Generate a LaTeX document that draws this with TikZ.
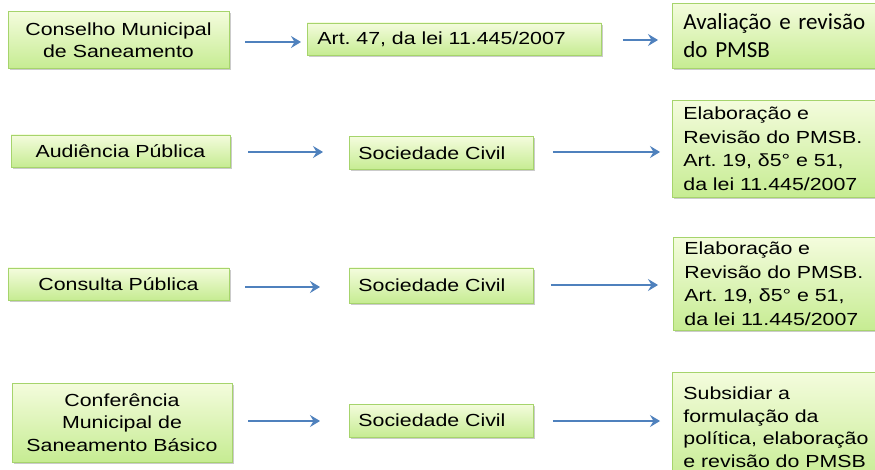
\documentclass[tikz,border=0pt]{standalone}
\usepackage{fontspec}
\setmainfont[FakeStretch=1.22]{Liberation Sans}
\newfontfamily\calib{Carlito}
\usetikzlibrary{shadows,arrows.meta}
\definecolor{boxtop}{HTML}{F4FCDD}
\definecolor{boxbot}{HTML}{C6EC92}
\definecolor{boxline}{HTML}{A6D46C}
\definecolor{arrblue}{HTML}{4F81BD}
\tikzset{
  box/.style={draw=boxline, line width=0.8pt, top color=boxtop, bottom color=boxbot,
    drop shadow={shadow xshift=1.5pt, shadow yshift=-2pt, fill=black!40, opacity=0.5},
    inner sep=0pt, font=\fontsize{17.5}{22.5}\selectfont, text=black},
  cbox/.style={box, align=center},
  sbox/.style={box, anchor=west, minimum width=184pt, minimum height=33pt, align=left, text width=184pt},
  rbox/.style={box, anchor=north west, minimum width=230pt, align=left, text width=230pt,
    inner ysep=4.5pt, font=\fontsize{17.5}{23.5}\selectfont},
  arr/.style={draw=arrblue, line width=2.8pt, -{Stealth[length=10pt,width=12pt,inset=3.5pt]}}
}
\begin{document}
\frenchspacing
\begin{tikzpicture}[x=1pt,y=-1pt]
\path[fill=white] (0,0) rectangle (875,470);
\useasboundingbox (0,0) rectangle (875,470);
\begin{scope}
\clip (0,0) rectangle (875,470);
% row 1
\node[cbox, minimum width=221pt, minimum height=57pt] (c1) at (118.5,40) {Conselho Municipal\\de Saneamento};
\node[box, anchor=west, minimum width=294pt, minimum height=32pt, align=left, text width=294pt] (a1) at (307,39) {\hspace*{10pt}Art. 47, da lei 11.445/2007};
\node[rbox, minimum height=65pt, inner ysep=3.5pt, font=\calib\fontsize{23}{28}\selectfont] (r1) at (672,3) {\hspace*{11pt}Avaliação e revisão\\\hspace*{11pt}do PMSB};
% row 2
\node[cbox, minimum width=219pt, minimum height=32pt] (c2) at (120.5,151) {Audiência Pública};
\node[sbox] (s2) at (349,153) {\hspace*{9pt}Sociedade Civil};
\node[rbox, minimum height=97pt] (r2) at (672,100) {\hspace*{11pt}Elaboração e\\\hspace*{11pt}Revisão do PMSB.\\\hspace*{11pt}Art. 19, δ5° e 51,\\\hspace*{11pt}da lei 11.445/2007};
% row 3
\node[cbox, minimum width=221pt, minimum height=32pt] (c3) at (118.5,284) {Consulta Pública};
\node[sbox, minimum height=35pt] (s3) at (349,285.5) {\hspace*{9pt}Sociedade Civil};
\node[rbox, minimum height=93pt] (r3) at (673,237) {\hspace*{11pt}Elaboração e\\\hspace*{11pt}Revisão do PMSB.\\\hspace*{11pt}Art. 19, δ5° e 51,\\\hspace*{11pt}da lei 11.445/2007};
% row 4
\node[cbox, minimum width=220pt, minimum height=79pt] (c4) at (122,422.5) {Conferência\\Municipal de\\Saneamento Básico};
\node[sbox] (s4) at (349,420.5) {\hspace*{9pt}Sociedade Civil};
\node[rbox, minimum height=110pt, inner ysep=1.5pt, font=\fontsize{17.5}{22.5}\selectfont] (r4) at (672,372) {\hspace*{11pt}Subsidiar a\\\hspace*{11pt}formulação da\\\hspace*{11pt}política, elaboração\\\hspace*{11pt}e revisão do PMSB};
\end{scope}
% arrows
\draw[arr, shorten <=16pt, shorten >=6pt] (c1.east |- 0,42) coordinate (p1) -- (a1.west |- p1);
\draw[arr, shorten <=21pt, shorten >=14pt] (a1.east |- 0,40) coordinate (p2) -- (r1.west |- p2);
\draw[arr, shorten <=18pt, shorten >=26pt] (c2.east |- 0,152) coordinate (p3) -- (s2.west |- p3);
\draw[arr, shorten <=19pt, shorten >=12pt] (s2.east |- 0,152) coordinate (p4) -- (r2.west |- p4);
\draw[arr, shorten <=16pt, shorten >=29pt] (c3.east |- 0,287) coordinate (p5) -- (s3.west |- p5);
\draw[arr, shorten <=17pt, shorten >=15pt] (s3.east |- 0,285) coordinate (p6) -- (r3.west |- p6);
\draw[arr, shorten <=16pt, shorten >=29pt] (c4.east |- 0,421) coordinate (p7) -- (s4.west |- p7);
\draw[arr, shorten <=19pt, shorten >=12pt] (s4.east |- 0,421) coordinate (p8) -- (r4.west |- p8);
\end{tikzpicture}
\end{document}
